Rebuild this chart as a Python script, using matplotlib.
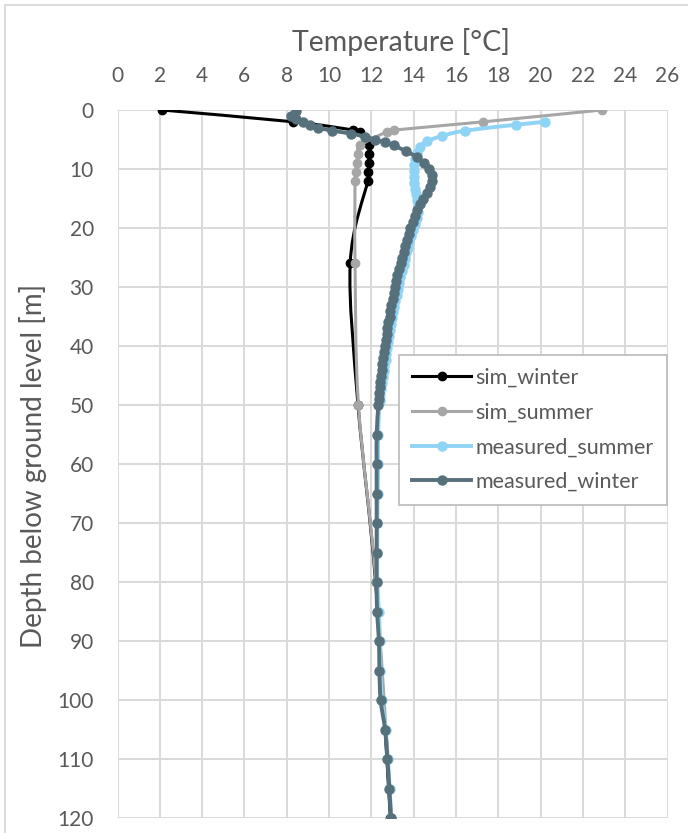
import matplotlib
matplotlib.use("Agg")
import matplotlib.pyplot as plt
from matplotlib.path import Path
from matplotlib.patches import PathPatch
from matplotlib.lines import Line2D
import numpy as np

# ---------------- data ----------------
sim_depth = [0, 2, 3.4, 3.7, 6, 7.5, 9, 10.5, 12, 26, 50, 80, 120]
sim_winter = [2.1, 8.3, 11.15, 11.45, 11.9, 11.9, 11.9, 11.86, 11.83, 11.0, 11.37, 12.2, 12.9]
sim_summer = [22.9, 17.3, 13.07, 12.73, 11.47, 11.39, 11.3, 11.26, 11.23, 11.23, 11.39, 12.22, 12.95]

meas_summer_depth = [2.0, 2.5, 3.5, 4.4, 5.3, 6.3, 7.3, 8.3, 9.3, 10.3, 11.3, 12.3, 13.3, 14.3,
                     15.3, 16.3, 17.3, 18.3, 19.3, 20.3, 21.3, 22.3, 23.3, 24.3, 25.3, 26.3,
                     27.3, 28.3, 29.3, 30.3, 31.3, 32.3, 33.3, 34.3, 35.3, 36.3, 37.3, 38.3,
                     39.3, 40.3, 41.3, 42.3, 43.3, 44.3, 45.3, 46.3, 47.3, 48.3, 49.3,
                     55, 60, 65, 70, 75, 80, 85, 90, 95, 100, 105, 110, 115, 120]
meas_summer = [20.2, 18.85, 16.43, 15.33, 14.65, 14.3, 14.15, 14.08, 14.02, 14.0, 14.0, 14.03,
               14.07, 14.12, 14.16, 14.2, 14.22, 14.15, 14.05, 13.96, 13.88, 13.8, 13.73,
               13.65, 13.58, 13.52, 13.43, 13.36, 13.29, 13.24, 13.2, 13.14, 13.08, 13.03,
               12.97, 12.92, 12.87, 12.83, 12.78, 12.74, 12.71, 12.67, 12.62, 12.59, 12.54,
               12.5, 12.46, 12.42, 12.39,
               12.32, 12.32, 12.3, 12.28, 12.28, 12.28, 12.36, 12.4, 12.43, 12.5, 12.68,
               12.78, 12.87, 12.94]

meas_winter_depth = [0.2, 1.0, 1.5, 2.0, 2.5, 3.0, 3.5, 4.0, 4.5, 5.0, 5.5, 6.0, 7, 8, 9, 10,
                     11, 12, 13, 14, 15, 16, 17, 18, 19, 20, 21, 22, 23, 24, 25, 26, 27, 28,
                     29, 30, 31, 32, 33, 34, 35, 36, 37, 38, 39, 40, 41, 42, 43, 44, 45, 46,
                     47, 48, 49, 50, 55, 60, 65, 70, 75, 80, 85, 90, 95, 100, 105, 110, 115, 120]
meas_winter = [8.45, 8.2, 8.45, 8.75, 9.1, 9.5, 10.15, 11.05, 11.7, 12.15, 12.65, 13.05, 13.65,
               14.15, 14.5, 14.72, 14.85, 14.86, 14.77, 14.62, 14.45, 14.3, 14.17, 14.05,
               13.95, 13.85, 13.76, 13.68, 13.6, 13.52, 13.45, 13.38, 13.3, 13.23, 13.16,
               13.1, 13.05, 13.0, 12.95, 12.9, 12.86, 12.8, 12.76, 12.72, 12.67, 12.63,
               12.6, 12.56, 12.52, 12.48, 12.44, 12.42, 12.4, 12.37, 12.35, 12.33,
               12.25, 12.25, 12.25, 12.25, 12.25, 12.25, 12.27, 12.36, 12.38, 12.44, 12.65,
               12.76, 12.85, 12.93]

x_ticks = [0, 2, 4, 6, 8, 10, 12, 14, 16, 18, 20, 22, 24, 26]
y_ticks = [0, 10, 20, 30, 40, 50, 60, 70, 80, 90, 100, 110, 120]

series = [
    ("sim_winter", sim_winter, sim_depth, "#000000", 2.2, 6.0),
    ("sim_summer", sim_summer, sim_depth, "#a6a6a6", 2.2, 6.0),
    ("measured_summer", meas_summer, meas_summer_depth, "#8fd3f5", 2.8, 6.5),
    ("measured_winter", meas_winter, meas_winter_depth, "#56707c", 2.8, 6.5),
]

TEXT = "#595959"
GRID = "#d9d9d9"
plt.rcParams["font.family"] = ["Lato", "DejaVu Sans"]

W, H = 688, 833
fig = plt.figure(figsize=(W / 100, H / 100), dpi=100)
left, right, top, bottom = 117.5, 667.5, 110, 818.3
ax = fig.add_axes([left / W, 1 - bottom / H, (right - left) / W, (bottom - top) / H])


def smooth_path(xs, ys):
    """Cubic Bezier path through the points (Catmull-Rom style smoothing)."""
    pts = np.column_stack([xs, ys]).astype(float)
    n = len(pts)
    verts = [pts[0]]
    codes = [Path.MOVETO]
    for i in range(n - 1):
        p0 = pts[max(i - 1, 0)]
        p1 = pts[i]
        p2 = pts[i + 1]
        p3 = pts[min(i + 2, n - 1)]
        verts += [p1 + (p2 - p0) / 6.0, p2 - (p3 - p1) / 6.0, p2]
        codes += [Path.CURVE4] * 3
    return Path(verts, codes)


handles = []
for k, (name, temps, depths, color, lw, ms) in enumerate(series):
    patch = PathPatch(smooth_path(temps, depths), facecolor="none", edgecolor=color,
                      lw=lw, joinstyle="round", capstyle="round", zorder=3 + 2 * k)
    ax.add_patch(patch)
    ax.plot(temps, depths, linestyle="none", marker="o", ms=ms, color=color,
            mec=color, zorder=4 + 2 * k)
    handles.append(Line2D([], [], color=color, lw=lw, marker="o", ms=ms, label=name))

ax.set_xlim(0, 26)
ax.set_ylim(120, 0)
ax.set_xticks(x_ticks)
ax.set_yticks(y_ticks)
ax.xaxis.tick_top()
ax.tick_params(axis="both", length=0, labelsize=15, labelcolor=TEXT)
ax.tick_params(axis="x", pad=17.5)
ax.tick_params(axis="y", pad=17)
ax.grid(True, color=GRID, lw=1.4)
ax.set_axisbelow(True)
for s in ax.spines.values():
    s.set_visible(False)

fig.text((left + right) / 2 / W + 0.012, 1 - 42 / H, "Temperature [°C]", ha="center",
         va="center", fontsize=20.5, color=TEXT)
fig.text(33 / W, 1 - 466 / H, "Depth below ground level [m]", ha="center", va="center",
         rotation=90, fontsize=20, color=TEXT)

leg = ax.legend(handles=handles, loc="upper left",
                bbox_to_anchor=(399.3 / W, 1 - 355 / H), bbox_transform=fig.transFigure,
                prop={"size": 15.5}, frameon=True, fancybox=False, edgecolor="#bfbfbf",
                framealpha=1, handlelength=2.75, handletextpad=0.2, labelspacing=0.68,
                borderpad=0.6, borderaxespad=0)
leg.get_frame().set_linewidth(1.3)
for t in leg.get_texts():
    t.set_color(TEXT)
leg.set_zorder(20)

# light outline of the chart area
fig.add_artist(Line2D([5 / W, 5 / W], [0, 1 - 5 / H], transform=fig.transFigure,
                      color=GRID, lw=1.3))
fig.add_artist(Line2D([5 / W, 1], [1 - 5 / H, 1 - 5 / H], transform=fig.transFigure,
                      color=GRID, lw=1.3))

fig.savefig("out.png", dpi=100)
